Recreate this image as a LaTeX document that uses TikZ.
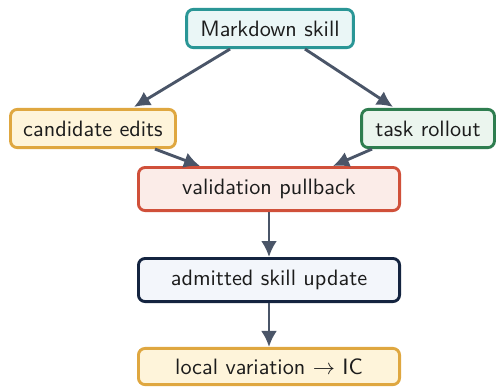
\documentclass[tikz,border=0pt]{standalone}
\usepackage{xcolor}
\usepackage{amsmath}
\usepackage{tikz}
\usetikzlibrary{arrows.meta, positioning, calc}
\definecolor{flowink}{HTML}{1C1C1C}
\definecolor{flowarrow}{HTML}{4A5568}
\definecolor{tealline}{HTML}{2A9696}
\definecolor{tealfill}{HTML}{EAF6F6}
\definecolor{goldline}{HTML}{DFA740}
\definecolor{goldfill}{HTML}{FEF4DA}
\definecolor{greenline}{HTML}{2E7D4F}
\definecolor{greenfill}{HTML}{EBF5EE}
\definecolor{redline}{HTML}{D0503A}
\definecolor{redfill}{HTML}{FBECE8}
\definecolor{navyline}{HTML}{142440}
\definecolor{navyfill}{HTML}{F3F6FB}

\begin{document}
\begin{tikzpicture}[
        x=0.45pt, y=-0.45pt,
        box/.style={draw, rounded corners=3pt, line width=1.3pt, font=\sffamily, align=center, inner sep=3pt, text=flowink, minimum height=17.2pt},
        widebox/.style={box, minimum width=117.5pt, minimum height=19.4pt},
        arrow/.style={-{Latex[length=7.2pt, width=7.2pt]}, line width=1.3pt, flowarrow}
    ]
        \useasboundingbox (0,0) rectangle (497,387);
        \node (skill) [box, draw=tealline, fill=tealfill, minimum width=75pt] at (270,28.5) {Markdown skill};
        \node (edits) [box, draw=goldline, fill=goldfill, minimum width=74.2pt] at (93,128.5) {candidate edits};
        \node (rollout) [box, draw=greenline, fill=greenfill, minimum width=59.8pt] at (428,128.5) {task rollout};
        \node (pullback) [widebox, draw=redline, fill=redfill] at (269,189) {validation pullback};
        \node (update) [widebox, draw=navyline, fill=navyfill] at (269,280) {admitted skill update};
        \node (variation) [widebox, draw=goldline, fill=goldfill, minimum height=16.3pt] at (269,366.5) {local variation $\rightarrow$ IC};

        \draw [arrow] ($(skill.south)+(-40,0)$) -- ($(edits.north)+(41,-1)$);
        \draw [arrow] ($(skill.south)+(35,0)$) -- ($(rollout.north)+(-35,-1)$);
        \draw [arrow] ($(edits.south)+(62,0)$) -- ($(pullback.north)+(-69,0)$);
        \draw [arrow] ($(rollout.south)+(-56,0)$) -- ($(pullback.north)+(64,0)$);
        \draw [arrow] (pullback) -- (update);
        \draw [arrow] (update) -- (variation);
    \end{tikzpicture}
\end{document}
